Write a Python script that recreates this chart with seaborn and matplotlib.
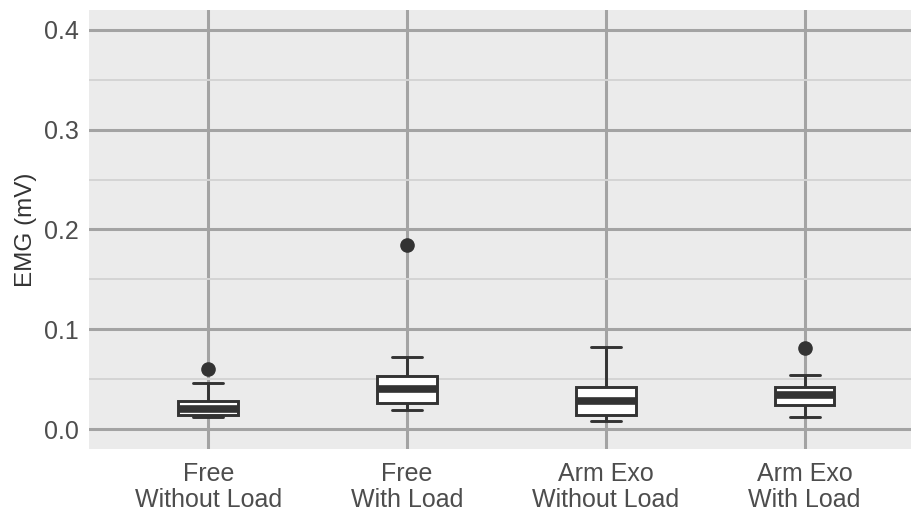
import matplotlib
matplotlib.use("Agg")
import matplotlib.pyplot as plt
from matplotlib.ticker import MultipleLocator
import numpy as np
import pandas as pd
import seaborn as sns

# Condition labels (two-line tick labels)
conditions = ["Free\nWithout Load", "Free\nWith Load", "Arm Exo\nWithout Load", "Arm Exo\nWith Load"]

free_no_load = [0.012, 0.013, 0.014, 0.017, 0.020, 0.024, 0.028, 0.046, 0.060]
free_load = [0.019, 0.022, 0.026, 0.034, 0.040, 0.047, 0.053, 0.072, 0.184]
exo_no_load = [0.008, 0.011, 0.014, 0.021, 0.028, 0.035, 0.042, 0.060, 0.082]
exo_load = [0.012, 0.018, 0.024, 0.030, 0.034, 0.038, 0.042, 0.054, 0.081]

y_ticks = [0.0, 0.1, 0.2, 0.3, 0.4]

samples = [free_no_load, free_load, exo_no_load, exo_load]
emg_data = pd.DataFrame({
    "Condition": np.repeat(conditions, [len(s) for s in samples]),
    "EMG": np.concatenate(samples),
})

sns.set_theme(style="white")
plt.rcParams["font.family"] = ["Liberation Sans", "DejaVu Sans"]

fig = plt.figure(figsize=(9.12, 5.18), dpi=100)
ax = fig.add_axes([89 / 912, 1 - 449 / 518, 1 - 89 / 912, (449 - 10) / 518])
ax.set_facecolor("#EBEBEB")

sns.boxplot(data=emg_data, x="Condition", y="EMG", order=conditions, ax=ax,
            color="white", saturation=1, linecolor="#333333", linewidth=2.1,
            width=0.3, fliersize=9.5,
            flierprops=dict(marker="o", markerfacecolor="#333333", markeredgecolor="#333333"),
            medianprops=dict(linewidth=5.5, color="#333333"))

# Grid like ggplot's grey theme, with darker lines
ax.set_axisbelow(True)
ax.set_yticks(y_ticks)
ax.yaxis.set_minor_locator(MultipleLocator(0.05))
ax.grid(which="major", axis="both", color="#A3A3A3", linewidth=2.2)
ax.grid(which="minor", axis="y", color="#D4D4D4", linewidth=1.4)
ax.tick_params(which="minor", length=0)
ax.tick_params(which="major", length=4.5, width=1.4, color="#333333",
               labelcolor="#4D4D4D", labelsize=18, pad=3)
ax.tick_params(axis="x", pad=5)
for spine in ax.spines.values():
    spine.set_visible(False)

ax.set_ylim(-0.02, 0.42)
ax.set_xlim(-0.6, 3.54)
ax.set_xlabel("")
ax.set_ylabel("EMG (mV)", fontsize=17.5, color="#333333", labelpad=5)
for lbl in ax.get_xticklabels():
    lbl.set_linespacing(1.1)

fig.savefig("out.png", dpi=100)
